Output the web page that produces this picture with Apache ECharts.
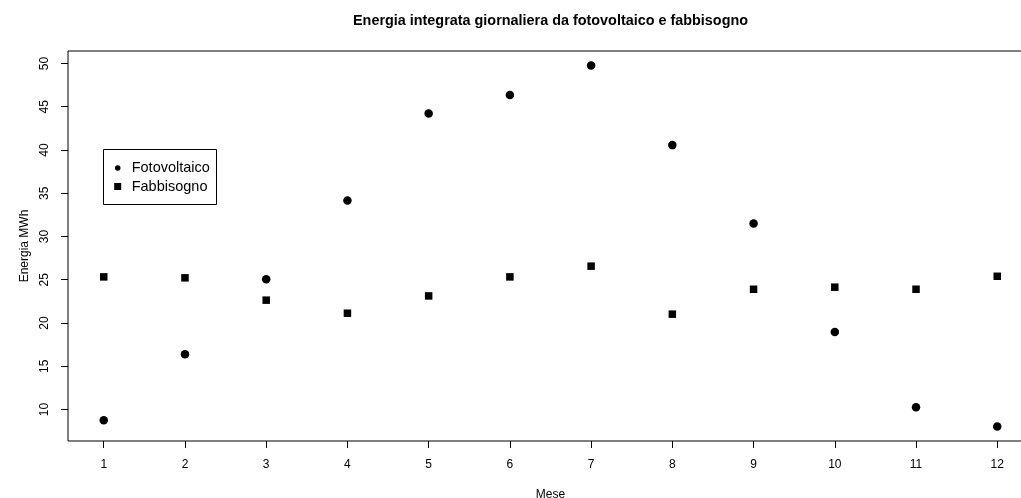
<!DOCTYPE html>
<html>
<head>
<meta charset="utf-8">
<script src="https://cdn.jsdelivr.net/npm/echarts@6/dist/echarts.min.js"></script>
<style>
  html, body { margin: 0; padding: 0; background: #fff; }
  #chart { width: 1021px; height: 498px; }
</style>
</head>
<body>
<div id="chart"></div>
<script>
const months = [1, 2, 3, 4, 5, 6, 7, 8, 9, 10, 11, 12];
const fotovoltaico = [8.76, 16.39, 25.06, 34.16, 44.22, 46.34, 49.77, 40.56, 31.5, 18.97, 10.27, 8.03];
const fabbisogno = [25.33, 25.22, 22.64, 21.13, 23.13, 25.33, 26.57, 21.02, 23.9, 24.14, 23.9, 25.4];
const xTicks = [1, 2, 3, 4, 5, 6, 7, 8, 9, 10, 11, 12];
const yTicks = [10, 15, 20, 25, 30, 35, 40, 45, 50];

// R-style 4% range extension
const allY = fotovoltaico.concat(fabbisogno);
const yLo = Math.min(...allY), yHi = Math.max(...allY);
const yExt = (yHi - yLo) * 0.04;
const xLo = Math.min(...months), xHi = Math.max(...months);
const xExt = (xHi - xLo) * 0.04;

const FONT = "'Liberation Sans', Arial, Helvetica, sans-serif";

const chart = echarts.init(document.getElementById('chart'), null, { renderer: 'canvas' });
chart.setOption({
  animation: false,
  backgroundColor: '#fff',
  textStyle: { fontFamily: FONT, color: '#000' },
  title: {
    text: 'Energia integrata giornaliera da fotovoltaico e fabbisogno',
    left: 550.5,
    textAlign: 'center',
    top: 14,
    padding: 0,
    textStyle: { fontFamily: FONT, fontSize: 14.4, fontWeight: 'bold', color: '#000' }
  },
  grid: {
    left: 68, top: 51, width: 965, height: 390,
    outerBoundsMode: 'none', containLabel: false,
    show: true, borderColor: '#000', borderWidth: 1, backgroundColor: 'transparent'
  },
  graphic: [{
    type: 'rect', z: 3,
    shape: { x: 103.5, y: 149.5, width: 113, height: 55 },
    style: { fill: '#fff', stroke: '#000', lineWidth: 1 }
  }],
  legend: [{
    data: [{ name: 'Fotovoltaico', icon: 'circle' }],
    left: 115, top: 160.5, padding: 0,
    itemWidth: 5.5, itemHeight: 5.5,
    selectedMode: false, z: 5,
    textStyle: { fontFamily: FONT, fontSize: 14.5, color: '#000', padding: [0, 0, 0, 6.2] }
  }, {
    data: [{ name: 'Fabbisogno', icon: 'rect' }],
    left: 114.2, top: 179, padding: 0,
    itemWidth: 7, itemHeight: 7,
    selectedMode: false, z: 5,
    textStyle: { fontFamily: FONT, fontSize: 14.5, color: '#000', padding: [0, 0, 0, 5.5] }
  }],
  xAxis: {
    type: 'value',
    min: xLo - xExt, max: xHi + xExt,
    name: 'Mese', nameLocation: 'middle', nameGap: 48,
    nameTextStyle: { fontFamily: FONT, fontSize: 12, color: '#000' },
    axisLine: { show: false },
    axisTick: { show: true, length: 7, customValues: xTicks, lineStyle: { color: '#000', width: 1 } },
    axisLabel: { customValues: xTicks, margin: 18, fontSize: 12, color: '#000', fontFamily: FONT },
    splitLine: { show: false }
  },
  yAxis: {
    type: 'value',
    min: yLo - yExt, max: yHi + yExt,
    name: 'Energia MWh', nameLocation: 'middle', nameGap: 37,
    nameTextStyle: { fontFamily: FONT, fontSize: 12, color: '#000' },
    axisLine: { show: false },
    axisTick: { show: true, length: 7, customValues: yTicks, lineStyle: { color: '#000', width: 1 } },
    axisLabel: { customValues: yTicks, rotate: 90, margin: 17, fontSize: 12, color: '#000', fontFamily: FONT },
    splitLine: { show: false }
  },
  series: [{
    name: 'Fotovoltaico', type: 'scatter', symbol: 'circle', symbolSize: 8.5,
    itemStyle: { color: '#000', opacity: 1 },
    data: months.map((m, i) => [m, fotovoltaico[i]])
  }, {
    name: 'Fabbisogno', type: 'scatter', symbol: 'rect', symbolSize: 7.5,
    itemStyle: { color: '#000', opacity: 1 },
    data: months.map((m, i) => [m, fabbisogno[i]])
  }]
});
</script>
</body>
</html>
